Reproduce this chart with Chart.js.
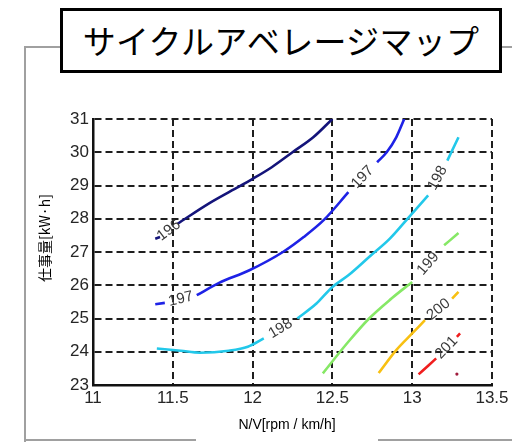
<!DOCTYPE html>
<html>
<head>
<meta charset="utf-8">
<script src="https://cdn.jsdelivr.net/npm/chart.js@4.4.0/dist/chart.umd.min.js"></script>
<style>
  body { margin: 0; background: #fff; }
  #wrap { position: relative; width: 512px; height: 442px; overflow: hidden; }
  #chart { position: absolute; left: 0; top: 0; }
  .frame { position: absolute; background: #a0a0a0; }
  #title {
    position: absolute; left: 60px; top: 8px; width: 436px; height: 59px;
    border: 3px solid #000; background: #fff;
    font-family: "Noto Sans CJK JP", sans-serif; font-size: 33px;
    line-height: 59px; text-align: center; color: #000; letter-spacing: 0.3px;
  }
</style>
</head>
<body>
<div id="wrap">
  <div class="frame" style="left:24px;top:46px;width:2px;height:396px"></div>
  <div class="frame" style="left:24px;top:46px;width:38px;height:2px"></div>
  <div class="frame" style="left:500px;top:46px;width:12px;height:2px"></div>
  <div class="frame" style="left:24px;top:439px;width:172px;height:2px"></div>
  <div class="frame" style="left:378px;top:439px;width:134px;height:2px"></div>
  <canvas id="chart" width="512" height="442"></canvas>
  <div id="title">サイクルアベレージマップ</div>
</div>
<script>
// contour levels and their traced points [N/V, work]; null = gap where the label sits
const levels = [196, 197, 198, 199, 200, 201];
const c196 = [[11.39, 27.4], [11.42, 27.45], null, [11.53, 27.85], [11.73, 28.47], [11.87, 28.85], [12.0, 29.2], [12.12, 29.55], [12.25, 30.0], [12.38, 30.45], [12.5, 31.0]];
const c197 = [[11.39, 25.43], [11.45, 25.47], null, [11.65, 25.7], [11.79, 26.07], [11.98, 26.45], [12.19, 27.0], [12.32, 27.45], [12.45, 27.98], [12.6, 28.8], null, [12.78, 29.7], [12.84, 30.0], [12.9, 30.45], [12.95, 31.0]];
const c198 = [[11.4, 24.1], [11.55, 24.03], [11.67, 23.97], [11.85, 24.03], [11.97, 24.15], [12.07, 24.4], null, [12.28, 25.0], [12.4, 25.45], [12.5, 25.95], [12.6, 26.3], [12.73, 26.85], [12.86, 27.4], [12.98, 28.05], [13.1, 28.7], null, [13.22, 29.75], [13.29, 30.45]];
const c199 = [[12.44, 23.35], [12.6, 24.3], [12.73, 25.0], [12.87, 25.6], [13.0, 26.1], null, [13.2, 27.2], [13.29, 27.57]];
const c200 = [[12.79, 23.36], [12.9, 24.05], [13.0, 24.55], [13.08, 24.95], null, [13.25, 25.6], [13.29, 25.8]];
const c201 = [[13.04, 23.32], [13.1, 23.58], [13.15, 23.8], null, [13.28, 24.45], [13.3, 24.55]];
const contours = [c196, c197, c198, c199, c200, c201];
const strayPoint = [[13.28, 23.33]];

const xTicks = [11, 11.5, 12, 12.5, 13, 13.5];
const yTicks = [23, 24, 25, 26, 27, 28, 29, 30, 31];

const lineColors = ["#14147a", "#1e22e6", "#22c8ea", "#86e866", "#f8c012", "#f01e1e"];

const toPoints = (arr) => arr.map((p) => (p ? { x: p[0], y: p[1] } : { x: NaN, y: null }));

const datasets = contours.map((c, i) => ({
  label: String(levels[i]),
  data: toPoints(c),
  borderColor: lineColors[i],
  borderWidth: 2.6,
  pointRadius: 0,
  showLine: true,
  spanGaps: false,
  cubicInterpolationMode: "monotone",
}));
datasets.push({
  label: "dot",
  data: toPoints(strayPoint),
  pointRadius: 1.6,
  pointBackgroundColor: "#a01c3c",
  pointBorderWidth: 0,
  showLine: false,
});

// contour labels drawn in the gaps, rotated along the line
const contourLabels = {
  id: "contourLabels",
  afterDatasetsDraw(chart) {
    const { ctx, scales: { x, y } } = chart;
    ctx.save();
    ctx.fillStyle = "#3a3a3a";
    ctx.font = "15px 'Liberation Sans', Arial, sans-serif";
    ctx.textAlign = "center";
    ctx.textBaseline = "middle";
    contours.forEach((c, i) => {
      c.forEach((p, j) => {
        if (p !== null) return;
        const a = c[j - 1], b = c[j + 1];
        const ax = x.getPixelForValue(a[0]), ay = y.getPixelForValue(a[1]);
        const bx = x.getPixelForValue(b[0]), by = y.getPixelForValue(b[1]);
        ctx.save();
        ctx.translate((ax + bx) / 2, (ay + by) / 2);
        ctx.rotate(Math.atan2(by - ay, bx - ax));
        ctx.fillText(String(levels[i]), 0, 0);
        ctx.restore();
      });
    });
    ctx.restore();
  },
};

const axisTitles = {
  id: "axisTitles",
  afterDraw(chart) {
    const { ctx } = chart;
    ctx.save();
    ctx.fillStyle = "#000";
    ctx.textAlign = "center";
    ctx.textBaseline = "middle";
    ctx.font = "14px 'Liberation Sans', Arial, sans-serif";
    ctx.fillText("N/V[rpm / km/h]", 287, 425);
    ctx.translate(45, 238);
    ctx.rotate(-Math.PI / 2);
    ctx.font = "14px 'Noto Sans CJK JP', sans-serif";
    ctx.fillText("仕事量[kW·h]", 0, 0);
    ctx.restore();
  },
};

const tickFont = { family: "'Liberation Sans', Arial, sans-serif", size: 17 };

new Chart(document.getElementById("chart"), {
  type: "line",
  data: { datasets },
  options: {
    responsive: false,
    animation: false,
    layout: { padding: { top: 119, right: 20, bottom: 0, left: 0 } },
    plugins: { legend: { display: false }, tooltip: { enabled: false } },
    scales: {
      x: {
        type: "linear",
        min: 11,
        max: 13.5,
        afterFit: (s) => { s.height = 57; },
        afterBuildTicks: (s) => { s.ticks = xTicks.map((v) => ({ value: v })); },
        grid: { color: "#1e1e1e", lineWidth: 2, drawTicks: false },
        border: { display: true, color: "#111", width: 2.5, dash: [7, 4] },
        ticks: { color: "#262626", font: tickFont, padding: 3, maxRotation: 0, callback: (v) => String(v) },
      },
      y: {
        type: "linear",
        min: 23,
        max: 31,
        afterFit: (s) => { s.width = 93; },
        afterBuildTicks: (s) => { s.ticks = yTicks.map((v) => ({ value: v })); },
        grid: { color: "#1e1e1e", lineWidth: 2, drawTicks: false },
        border: { display: true, color: "#111", width: 2.5, dash: [7, 4] },
        ticks: { color: "#262626", font: tickFont, padding: 4, callback: (v) => String(v) },
      },
    },
  },
  plugins: [contourLabels, axisTitles],
});
</script>
</body>
</html>
